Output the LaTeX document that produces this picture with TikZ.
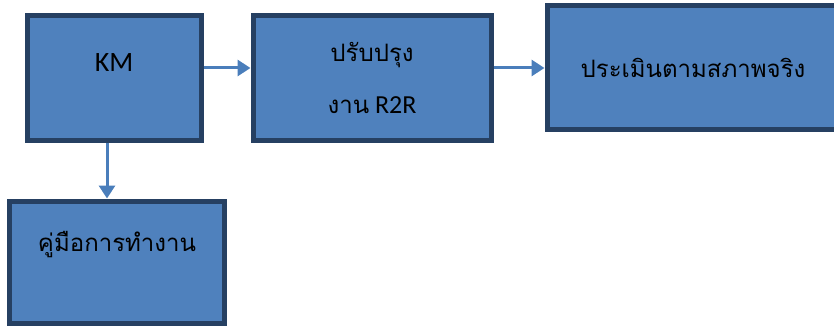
\documentclass[tikz,border=0pt]{standalone}
\usepackage{fontspec}
\setmainfont{Carlito}
\newfontfamily\thai[Script=Thai]{Loma}
\usetikzlibrary{arrows.meta}

\definecolor{boxfill}{RGB}{79,129,189}
\definecolor{boxline}{RGB}{38,64,98}
\definecolor{arrowcol}{RGB}{74,126,187}

\tikzset{
  box/.style={draw=boxline,fill=boxfill,line width=5pt,inner sep=0pt,minimum height=124pt},
  lbl/.style={inner sep=0pt,text=black},
  thaitext/.style={lbl,font=\thai\fontsize{24}{28}\selectfont},
  link/.style={draw=arrowcol,line width=3pt,-{Triangle[length=13pt,width=16pt]}}
}

\begin{document}
\begin{tikzpicture}[x=1pt,y=1pt]
\useasboundingbox (0,0) rectangle (834,-326);
\node[box,minimum width=174pt] (km) at (114,-78) {};
\node[box,minimum width=238pt] (r2r) at (372,-78) {};
\node[box,minimum width=292pt] (eval) at (693,-67.5) {};
\node[box,minimum width=215pt,minimum height=122pt] (man) at (117,-262) {};
% texts
\node[lbl,font=\fontsize{28}{32}\selectfont] (kmtext) at ([yshift=15pt]km.center) {KM};
\node[thaitext] (r2rtop) at ([yshift=23pt]r2r.center) {ปรับปรุง};
\node[lbl,font=\fontsize{26}{30}\selectfont] (r2rbot) at ([yshift=-27pt]r2r.center) {{\thai\fontsize{24}{28}\selectfont งาน} R2R};
\node[thaitext] (evaltext) at (eval.center) {ประเมินตามสภาพจริง};
\node[thaitext] (mantext) at ([yshift=17pt]man.center) {คู่มือการทำงาน};
% arrows
\draw[link] ([yshift=10pt]km.east) -- ([yshift=10pt]r2r.west);
\draw[link] ([yshift=10pt]r2r.east) -- ([yshift=10pt]r2r.east -| eval.west);
\draw[link] ([xshift=-7pt]km.south) -- ([xshift=-7pt]km.south |- man.north);
\end{tikzpicture}
\end{document}
